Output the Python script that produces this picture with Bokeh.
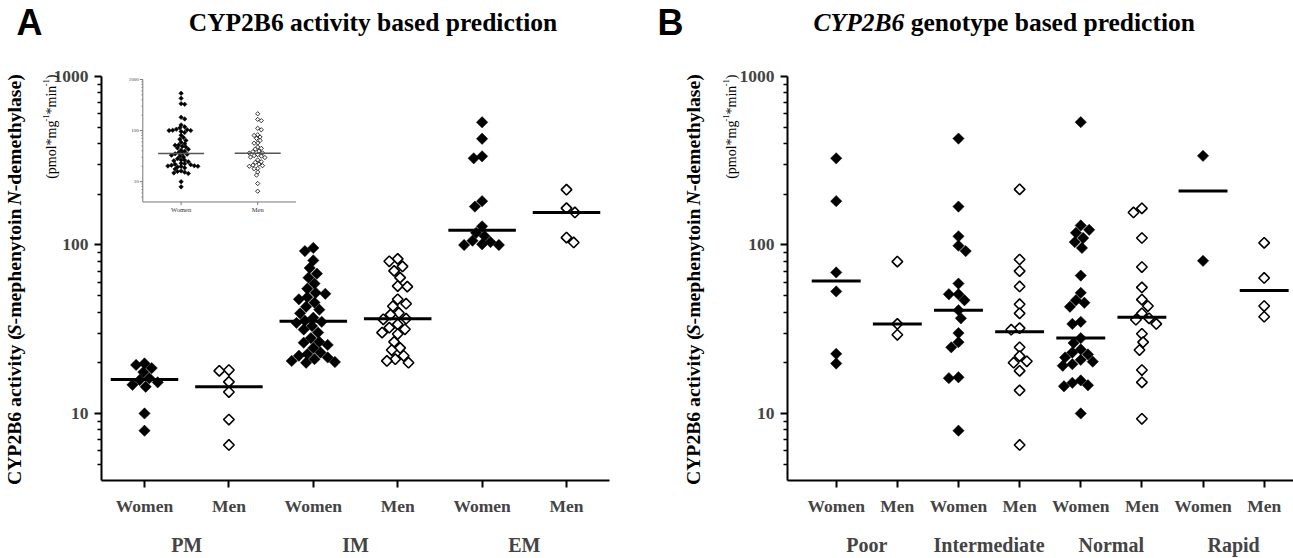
import math
from bokeh.plotting import figure
from bokeh.layouts import row
from bokeh.models import (Range1d, FixedTicker, PrintfTickFormatter, LinearAxis, LogScale)
from bokeh.core.properties import value
from bokeh.embed import file_html
from bokeh.resources import INLINE

# ---------------- data : panel A (activity based phenotype) ----------------
sexes = ["Women", "Men"]
A_groups = ["PM", "IM", "EM"]
A_PM_women = [19.8, 19.4, 18.6, 17.6, 16.2, 15.8, 15.3, 14.8, 14.4, 10.0, 7.9]
A_PM_men = [18.1, 17.9, 15.4, 13.4, 9.2, 6.5]
A_IM_women = [96, 92, 81, 73, 67.6, 64, 59, 55, 52, 51.3, 49, 47.6, 45.5, 43, 41.3, 39.3,
              37, 35.5, 35, 34.5, 33, 31.5, 30.2, 28, 26.6, 26.3, 25.5, 24.5, 23, 22.5,
              22, 21.5, 21, 20.5, 20.2, 20]
A_IM_men = [82.7, 80, 74.6, 70.2, 64, 57, 56.6, 47.6, 44.8, 43.3, 39.5, 38.6, 36.5, 36.2,
            33.8, 32.3, 31.6, 30.2, 29.6, 26.6, 24.5, 23.8, 22, 21, 20.5, 20]
A_EM_women = [535, 427, 336, 327, 182, 169, 129, 118, 113, 106, 104, 101, 100, 100]
A_EM_men = [213, 165.5, 156, 110.6, 103.5]
A_medians = [15.9, 14.4, 35.3, 36.5, 122.5, 156.0]

# ---------------- data : panel B (genotype based phenotype) ----------------
B_groups = ["Poor", "Intermediate", "Normal", "Rapid"]
B_poor_women = [327, 182, 68.7, 53, 22.6, 19.8]
B_poor_men = [79.7, 34, 29.3]
B_int_women = [428, 169, 112.6, 99, 92, 59, 51, 51, 47, 41, 36.7, 30, 26.5, 24.7, 16.4, 16.2, 7.9]
B_int_men = [214, 82, 70, 56.7, 44.5, 39.3, 32.1, 31.4, 24.7, 21.9, 20.4, 20, 17.9, 13.7, 6.5]
B_norm_women = [536, 130.6, 123, 118, 110, 104, 96, 65.8, 52, 47, 45.4, 43, 35, 34, 28, 26.2,
                24, 23, 22.4, 21.5, 20.8, 20.3, 19.6, 19.2, 15.7, 15.2, 14.7, 14.5, 10]
B_norm_men = [165, 156, 110, 74, 56, 47.4, 43.4, 39.3, 36.7, 36, 34, 29.7, 26.5, 23.8, 18.1, 15.3, 9.3]
B_rapid_women = [338, 80.5]
B_rapid_men = [103, 63.7, 43.4, 37.5]
B_medians = [61.2, 34.0, 41.0, 30.5, 28.0, 37.2, 209.0, 53.7]

inset_medians = [35.6, 36.0]
y_ticks = [10, 100, 1000]
y_labels = ["10", "100", "1000"]

A_cols = [A_PM_women, A_PM_men, A_IM_women, A_IM_men, A_EM_women, A_EM_men]
B_cols = [B_poor_women, B_poor_men, B_int_women, B_int_men,
          B_norm_women, B_norm_men, B_rapid_women, B_rapid_men]
inset_cols = [A_PM_women + A_IM_women + A_EM_women, A_PM_men + A_IM_men + A_EM_men]

# ---------------- layout constants (page pixels) ----------------
SERIF = "Liberation Serif"
SANS = "Liberation Sans"
H = 558
BT, BB = 76, 72
Y0, Y1 = 4.0, 1000.0
FRAME_H = H - BT - BB
DEC_PX = FRAME_H / math.log10(Y1 / Y0)
FRAME_BOTTOM = H - BB

A_W, A_L, A_R, A_UNIT, A_X0 = 658, 101, 49, 84.4, 0.4905
A_X1 = A_X0 + (A_W - A_L - A_R) / A_UNIT
B_W, B_L, B_R, B_UNIT, B_X0 = 635, 129, 0, 61.14, 0.2035
B_X1 = B_X0 + (B_W - B_L - B_R) / B_UNIT
A_FL = A_L
B_FL = A_W + B_L

minor = [m * 10 ** d for d in (0, 1, 2) for m in range(2, 10) if Y0 < m * 10 ** d < Y1]


def swarm(vals, unit_px, dec_px, diam, limit_px, step=1.2):
    placed, offs = [], []
    for i, v in enumerate(vals):
        y = math.log10(v) * dec_px
        cands = [0.0]
        for j in range(1, int(limit_px / step) + 1):
            cands += [j * step, -j * step] if i % 2 == 0 else [-j * step, j * step]
        best, best_d, found = 0.0, -1.0, None
        for c in cands:
            d = min((math.hypot(c - px, y - py) for px, py in placed), default=1e9)
            if d >= diam:
                found = c
                break
            if d > best_d:
                best, best_d = c, d
        if found is None:
            found = best
        placed.append((found, y))
        offs.append(found / unit_px)
    return offs


def make_panel(w, left, right, x0, x1, n, groups):
    p = figure(width=w, height=H, x_range=Range1d(x0, x1), y_range=Range1d(Y0, Y1),
               y_axis_type="log", output_backend="svg", toolbar_location=None,
               min_border_left=left, min_border_right=right, min_border_top=BT,
               min_border_bottom=BB)
    p.grid.visible = False
    p.outline_line_color = None
    p.background_fill_color = "white"
    ax = p.xaxis[0]
    ax.ticker = FixedTicker(ticks=list(range(1, n + 1)))
    ax.major_label_overrides = {i + 1: sexes[i % 2] for i in range(n)}
    ax.axis_line_width = 2
    ax.major_tick_line_width = 2
    ax.major_tick_in = 0
    ax.major_tick_out = 7
    ax.minor_tick_line_color = None
    ax.major_label_standoff = 8
    ax.major_label_text_font = SERIF
    ax.major_label_text_font_style = "bold"
    ax.major_label_text_font_size = "17.5px"
    # second row of category labels (phenotype groups)
    gpos = [2 * i + 1.5 for i in range(len(groups))]
    g = LinearAxis(ticker=FixedTicker(ticks=gpos),
                   major_label_overrides={gp: gname for gp, gname in zip(gpos, groups)},
                   axis_line_color=None, major_tick_line_color=None,
                   minor_tick_line_color=None, major_tick_in=0, major_tick_out=0,
                   minor_tick_in=0, minor_tick_out=0, major_label_standoff=15,
                   major_label_text_font=SERIF, major_label_text_font_style="bold",
                   major_label_text_font_size="20px")
    p.add_layout(g, "below")
    ay = p.yaxis[0]
    ay.ticker = FixedTicker(ticks=y_ticks, minor_ticks=minor)
    ay.formatter = PrintfTickFormatter(format="%d")
    ay.axis_line_width = 2
    ay.major_tick_line_width = 2
    ay.minor_tick_line_width = 1.5
    ay.major_tick_in = 0
    ay.major_tick_out = 7
    ay.minor_tick_in = 0
    ay.minor_tick_out = 4
    ay.major_label_standoff = 6
    ay.major_label_text_font = SERIF
    ay.major_label_text_font_style = "bold"
    ay.major_label_text_font_size = "17.5px"
    return p


def add_points(p, cols, unit_px, limit_px, diam=8.5, size_w=8.0, size_m=7.5,
               lw=1.6, rn=None, dec_px=DEC_PX):
    kw = {} if rn is None else {"x_range_name": rn, "y_range_name": rn}
    xw, yw, xm, ym = [], [], [], []
    for ci, vals in enumerate(cols):
        offs = swarm(vals, unit_px, dec_px, diam, limit_px)
        xs = [ci + 1 + o for o in offs]
        if ci % 2 == 0:
            xw += xs
            yw += list(vals)
        else:
            xm += xs
            ym += list(vals)
    p.scatter(x=xw, y=yw, marker="square", size=size_w, angle=math.pi / 4,
              fill_color="black", line_color="black", line_width=0.5, **kw)
    p.scatter(x=xm, y=ym, marker="square", size=size_m, angle=math.pi / 4,
              fill_color="white", line_color="black", line_width=lw, **kw)
    return list(range(1, len(cols) + 1))


class Writer:
    """Places free text on a panel at page-pixel positions through its own scales."""

    def __init__(self, p, fl, x0, unit):
        self.p, self.fl, self.x0, self.unit = p, fl, x0, unit

    def put(self, px, py, text, size, style="bold", font=SERIF, angle=0.0,
            align="left", baseline="middle", color="black"):
        x = self.x0 + (px - self.fl) / self.unit
        y = 10 ** (math.log10(Y0) + (FRAME_BOTTOM - py) / DEC_PX)
        self.p.text(x=[x], y=[y], text=[text], angle=angle, text_font=value(font),
                    text_font_size=f"{size}px", text_font_style=style,
                    text_align=align, text_baseline=baseline, text_color=color,
                    level="overlay")


def ylabel(wr, x1, c1, f1, x2, c2, f2):
    pieces1 = [("CYP2B6 activity (", "bold", 7.721), ("S", "bold italic", 0.556),
               ("-mephenytoin ", "bold", 6.139), ("N", "bold italic", 0.722),
               ("-demethylase)", "bold", 5.943)]
    tot = sum(w for _, _, w in pieces1) * f1
    py = c1 + tot / 2
    for t, st, w in pieces1:
        wr.put(x1, py, t, f1, st, angle=math.pi / 2)
        py -= w * f1
    sf = 0.6
    pieces2 = [("(pmol*mg", False, 4.167), ("-1", True, 0.833), ("*min", False, 2.056),
               ("-1", True, 0.833), (")", False, 0.333)]
    tot2 = sum((w * sf if sup else w) for _, sup, w in pieces2) * f2
    py = c2 + tot2 / 2
    for t, sup, w in pieces2:
        if sup:
            wr.put(x2 - 0.38 * f2, py, t, round(f2 * sf, 1), "normal", angle=math.pi / 2)
            py -= w * sf * f2
        else:
            wr.put(x2, py, t, f2, "normal", angle=math.pi / 2)
            py -= w * f2


def medians_seg(p, pos, meds, half, lw, color="black", rn=None):
    kw = {} if rn is None else {"x_range_name": rn, "y_range_name": rn}
    p.segment(x0=[x - half for x in pos], x1=[x + half for x in pos], y0=meds, y1=meds,
              line_width=lw, line_color=color, **kw)


# ---------------- panel A ----------------
pA = make_panel(A_W, A_L, A_R, A_X0, A_X1, len(A_cols), A_groups)
posA = add_points(pA, A_cols, A_UNIT, 30)
medians_seg(pA, posA, A_medians, 0.4, 3)

# inset (all women vs all men), drawn on its own scales inside panel A
IN_UNIT, IN_DEC = 76.6, 51.85
in_x0 = 0.5 - (142.3 - A_FL) / IN_UNIT
in_x1 = in_x0 + (A_W - A_L - A_R) / IN_UNIT
in_top = 3 + (79 - BT) / IN_DEC
in_bot = in_top - FRAME_H / IN_DEC
pA.extra_x_ranges = {"inset": Range1d(in_x0, in_x1)}
pA.extra_y_ranges = {"inset": Range1d(10 ** in_bot, 10 ** in_top)}
pA.extra_y_scales = {"inset": LogScale()}
IK = {"x_range_name": "inset", "y_range_name": "inset"}
ax_col = "#777777"
pA.segment(x0=[0.5, 0.5], y0=[Y0, Y0], x1=[0.5, 2.5], y1=[Y1, Y0], line_color=ax_col,
           line_width=1, **IK)
tk = 3.0 / IN_UNIT
pA.segment(x0=[0.5 - tk] * 3, x1=[0.5] * 3, y0=y_ticks, y1=y_ticks, line_color=ax_col,
           line_width=1, **IK)
pA.segment(x0=[0.5 - tk / 2] * len(minor), x1=[0.5] * len(minor), y0=minor, y1=minor,
           line_color=ax_col, line_width=0.7, **IK)
ydn = Y0 / 10 ** (3.0 / IN_DEC)
pA.segment(x0=[1, 2], x1=[1, 2], y0=[Y0, Y0], y1=[ydn, ydn], line_color=ax_col,
           line_width=1, **IK)
pA.text(x=[0.5] * 3, y=y_ticks, text=y_labels, x_offset=-4, text_align="right",
        text_baseline="middle", text_font=value(SERIF), text_font_size="5px",
        text_color="#444444", **IK)
pA.text(x=[1, 2], y=[Y0, Y0], text=sexes, y_offset=8, text_align="center",
        text_baseline="middle", text_font=value(SERIF), text_font_size="6.5px",
        text_color="#333333", **IK)
posI = add_points(pA, inset_cols, IN_UNIT, 22, diam=3.2, size_w=3.2,
                  size_m=3.0, lw=0.8, rn="inset", dec_px=IN_DEC)
medians_seg(pA, posI, inset_medians, 0.3, 1.5, color="#555555", rn="inset")

wA = Writer(pA, A_FL, A_X0, A_UNIT)
wA.put(29, 21, "A", 36, "bold", font=SANS, align="center")
wA.put(372.5, 21, "CYP2B6 activity based prediction", 25.5, "bold", align="center")
ylabel(wA, 13, 283, 19.7, 51, 127, 14)

# ---------------- panel B ----------------
pB = make_panel(B_W, B_L, B_R, B_X0, B_X1, len(B_cols), B_groups)
posB = add_points(pB, B_cols, B_UNIT, 22)
medians_seg(pB, posB, B_medians, 0.4, 3)

wB = Writer(pB, B_FL, B_X0, B_UNIT)
wB.put(670, 21, "B", 36, "bold", font=SANS, align="center")
TF = 25.5
t_start = 1004 - (3.556 + 0.25 + 11.167) * TF / 2
wB.put(t_start, 21, "CYP2B6", TF, "bold italic")
wB.put(t_start + (3.556 + 0.25) * TF, 21, "genotype based prediction", TF, "bold")
ylabel(wB, 692, 283, 19.7, 731, 127, 14)

layout = row(pA, pB)
open("out.html", "w").write(file_html(layout, INLINE))
